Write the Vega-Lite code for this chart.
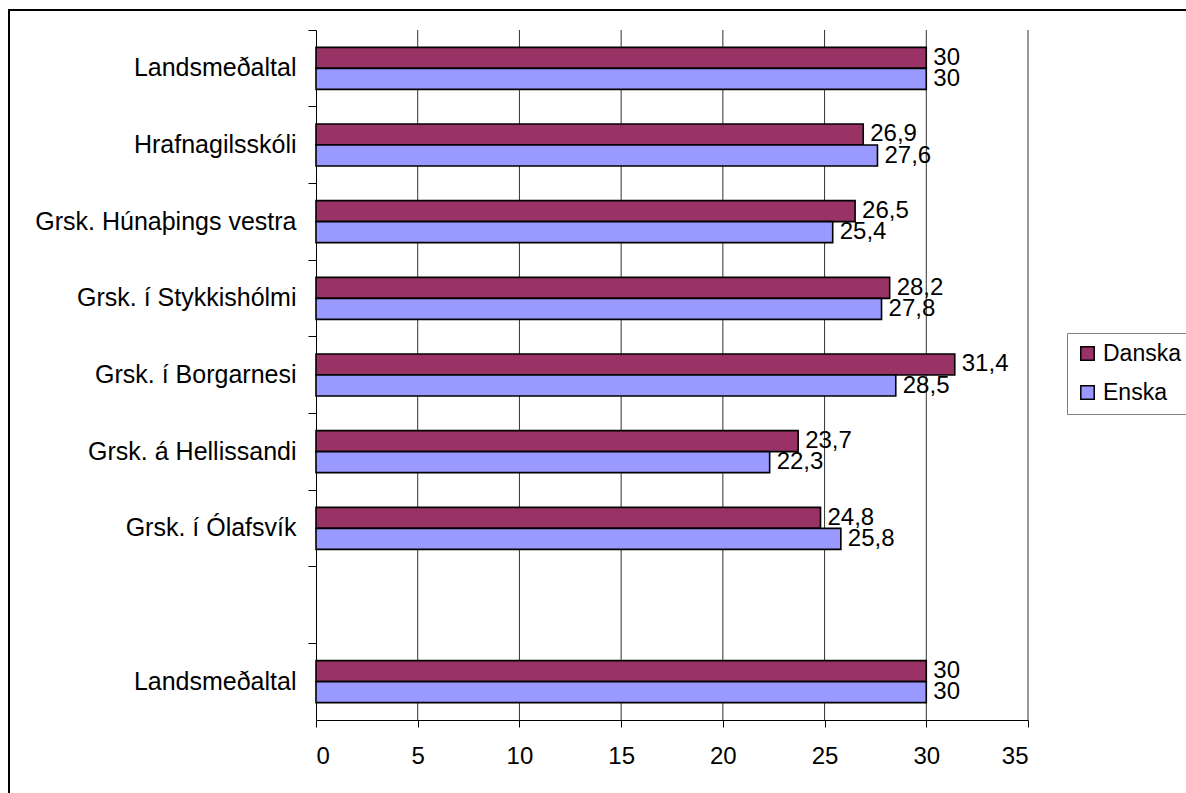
{
  "$schema": "https://vega.github.io/schema/vega-lite/v6.json",
  "autosize": {"type": "none"},
  "width": 1179,
  "height": 785,
  "padding": {"left": 9, "top": 10, "right": -2, "bottom": -2},
  "background": "white",
  "config": {
    "locale": {"number": {"decimal": ",", "thousands": ".", "grouping": [3], "currency": ["", " kr"]}},
    "view": {"stroke": "#000000", "strokeWidth": 2, "fill": "white"},
    "font": "Liberation Sans",
    "axisX": {
      "title": null,
      "orient": "bottom",
      "offset": -75,
      "values": [0, 5, 10, 15, 20, 25, 30, 35],
      "grid": false,
      "tickSize": 7,
      "tickColor": "#000000",
      "domainColor": "#000000",
      "labelFontSize": 24,
      "labelColor": "#000000",
      "labelFont": "Liberation Sans",
      "labelPadding": 17
    }
  },
  "resolve": {"scale": {"y": "independent"}},
  "layer": [
    {
      "data": {"values": [{"v": 5}, {"v": 10}, {"v": 15}, {"v": 20}, {"v": 25}, {"v": 30}, {"v": 35}]},
      "mark": {"type": "rule", "color": "#333333", "strokeWidth": 1},
      "encoding": {
        "x": {"field": "v", "type": "quantitative", "title": null, "scale": {"domain": [0, 35], "range": [307, 1019], "nice": false, "zero": true}, "axis": {"title": null, "offset": -75, "values": [0, 5, 10, 15, 20, 25, 30, 35]}},
        "y": {"datum": 0, "type": "quantitative", "scale": {"domain": [0, 1], "range": [20, 710], "nice": false, "zero": false}, "axis": null},
        "y2": {"datum": 1}
      }
    },
    {
      "data": {
        "values": [
          {"cat": "L1", "grein": "Danska", "value": 30},
          {"cat": "L1", "grein": "Enska", "value": 30},
          {"cat": "Hrafnagilsskóli", "grein": "Danska", "value": 26.9},
          {"cat": "Hrafnagilsskóli", "grein": "Enska", "value": 27.6},
          {"cat": "Grsk. Húnaþings vestra", "grein": "Danska", "value": 26.5},
          {"cat": "Grsk. Húnaþings vestra", "grein": "Enska", "value": 25.4},
          {"cat": "Grsk. í Stykkishólmi", "grein": "Danska", "value": 28.2},
          {"cat": "Grsk. í Stykkishólmi", "grein": "Enska", "value": 27.8},
          {"cat": "Grsk. í Borgarnesi", "grein": "Danska", "value": 31.4},
          {"cat": "Grsk. í Borgarnesi", "grein": "Enska", "value": 28.5},
          {"cat": "Grsk. á Hellissandi", "grein": "Danska", "value": 23.7},
          {"cat": "Grsk. á Hellissandi", "grein": "Enska", "value": 22.3},
          {"cat": "Grsk. í Ólafsvík", "grein": "Danska", "value": 24.8},
          {"cat": "Grsk. í Ólafsvík", "grein": "Enska", "value": 25.8},
          {"cat": "L2", "grein": "Danska", "value": 30},
          {"cat": "L2", "grein": "Enska", "value": 30}
        ]
      },
      "encoding": {
        "y": {
          "field": "cat",
          "type": "nominal",
          "scale": {
            "domain": ["L1", "Hrafnagilsskóli", "Grsk. Húnaþings vestra", "Grsk. í Stykkishólmi", "Grsk. í Borgarnesi", "Grsk. á Hellissandi", "Grsk. í Ólafsvík", "blank", "L2"],
            "range": [20, 710],
            "paddingInner": 0,
            "paddingOuter": 0
          },
          "axis": {
            "title": null,
            "orient": "left",
            "offset": -307,
            "bandPosition": 0,
            "tickSize": 8,
            "tickColor": "#000000",
            "domainColor": "#000000",
            "domainWidth": 1,
            "labelPadding": 12,
            "labelFontSize": 25,
            "labelColor": "#000000",
            "labelFont": "Liberation Sans",
            "labelLimit": 400,
            "grid": false,
            "labelExpr": "(datum.value == 'L1' || datum.value == 'L2') ? 'Landsmeðaltal' : (datum.value == 'blank' ? '' : datum.value)"
          }
        },
        "yOffset": {
          "field": "grein",
          "type": "nominal",
          "scale": {"domain": ["Danska", "Enska"], "paddingInner": 0, "paddingOuter": 0.825}
        },
        "x": {
          "field": "value",
          "type": "quantitative",
          "title": null,
          "scale": {"domain": [0, 35], "range": [307, 1019], "nice": false, "zero": true},
          "axis": {"title": null, "offset": -75, "values": [0, 5, 10, 15, 20, 25, 30, 35]}
        }
      },
      "layer": [
        {
          "mark": {"type": "bar", "stroke": "#000000", "strokeWidth": 1.6},
          "encoding": {
            "color": {
              "field": "grein",
              "type": "nominal",
              "scale": {"domain": ["Danska", "Enska"], "range": ["#993366", "#9999FF"]},
              "legend": {
                "title": null,
                "orient": "none",
                "legendX": 1058,
                "legendY": 323,
                "strokeColor": "#808080",
                "fillColor": "white",
                "padding": 9,
                "symbolType": "square",
                "symbolSize": 180,
                "symbolStrokeColor": "#000000",
                "symbolStrokeWidth": 1.5,
                "labelFontSize": 23,
                "labelFont": "Liberation Sans",
                "labelColor": "#000000",
                "rowPadding": 15,
                "labelOffset": 4
              }
            }
          }
        },
        {
          "mark": {"type": "text", "align": "left", "baseline": "middle", "dx": 7, "fontSize": 24, "font": "Liberation Sans", "color": "#000000"},
          "encoding": {
            "text": {"field": "value", "type": "quantitative", "format": "~g"}
          }
        }
      ]
    }
  ]
}
